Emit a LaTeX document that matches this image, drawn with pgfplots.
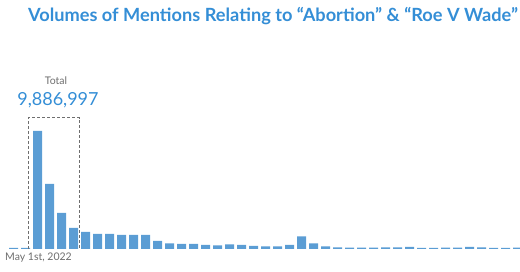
\documentclass[border=0pt]{standalone}
\usepackage{pgfplots}
\pgfplotsset{compat=1.18}
\usepackage{fontspec}
\setmainfont{Lato}
\definecolor{barblue}{RGB}{91,157,212}
\definecolor{titleblue}{RGB}{52,142,214}
\definecolor{txtgray}{RGB}{110,110,110}
\begin{document}
\begin{tikzpicture}[x=1pt,y=1pt]
\path[use as bounding box] (0,0) rectangle (520,272);
\begin{axis}[
  at={(0,23)}, anchor=south west,
  scale only axis, width=520pt, height=135pt,
  xmin=-1.125, xmax=42.208, ymin=0, ymax=135,
  hide axis, clip=false,
  ybar, bar width=9pt, bar shift=0pt,
]
\addplot[fill=barblue, draw=none] coordinates {
(0,1)(1,1)(2,118)(3,65)(4,36)(5,21)(6,17)(7,15)(8,15)(9,14)(10,14)(11,14)
(12,8)(13,5.5)(14,5)(15,5)(16,4)(17,3.5)(18,4.5)(19,4)(20,3)(21,2.5)(22,2.5)
(23,4)(24,12.5)(25,5.7)(26,2.5)(27,1.5)(28,1.3)(29,1.3)(30,1.3)(31,1.5)(32,1.5)
(33,2)(34,1)(35,1)(36,1.3)(37,1.3)(38,2)(39,1.7)(40,1)(41,1)(42,1.3)};
\draw[txtgray, line width=1pt, dash pattern=on 3pt off 2pt]
  (axis cs:1.21,0) -- (axis cs:1.21,131) -- (axis cs:5.54,131) -- (axis cs:5.54,0);
\end{axis}
\node[text=titleblue, font=\fontsize{18.2}{21}\selectfont\bfseries] at (273,256) {Volumes of Mentions Relating to “Abortion” \& “Roe V Wade”};
\node[text=txtgray, font=\fontsize{10.5}{12}\selectfont] at (56,191) {Total};
\node[text=titleblue, font=\fontsize{18}{21}\selectfont] at (58,172) {9,886,997};
\node[text=txtgray, font=\fontsize{10.5}{12}\selectfont, anchor=west, inner sep=0pt] at (5,14) {May 1st, 2022};
\end{tikzpicture}
\end{document}
